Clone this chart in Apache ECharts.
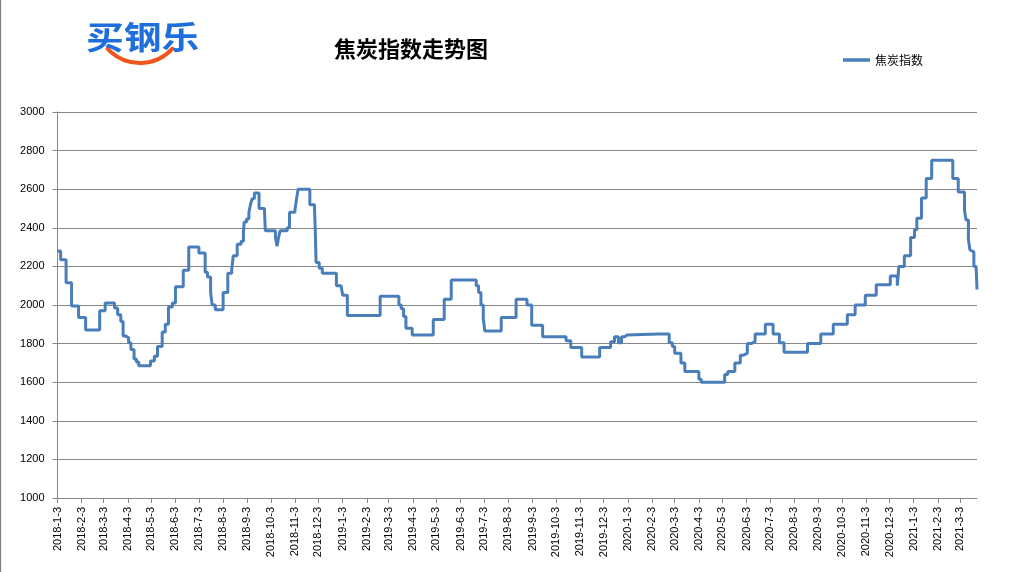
<!DOCTYPE html>
<html>
<head>
<meta charset="utf-8">
<script src="https://cdn.jsdelivr.net/npm/echarts@6.0.0/dist/echarts.min.js"></script>
<style>
html,body{margin:0;padding:0;background:#fff;}
#chart{width:1021px;height:572px;}
</style>
</head>
<body>
<div id="chart"></div>
<script>
// Axis range (daily categories)
const startDate = '2018-1-3';
const endDate = '2021-3-25';
const yTicks = [1000, 1200, 1400, 1600, 1800, 2000, 2200, 2400, 2600, 2800, 3000];
const seriesName = '焦炭指数';
const titleText = '焦炭指数走势图';
const logoText = '买钢乐';

// Index level change points: date where a new level begins, and that level
const changeDates = [
'2018-1-3','2018-1-7','2018-1-14','2018-1-21','2018-1-30','2018-2-8','2018-2-26','2018-3-5','2018-3-17','2018-3-21',
'2018-3-25','2018-3-28','2018-3-31','2018-4-4','2018-4-7','2018-4-11','2018-4-14','2018-4-17','2018-5-2','2018-5-7',
'2018-5-11','2018-5-17','2018-5-21','2018-5-25','2018-5-30','2018-6-3','2018-6-13','2018-6-20','2018-7-3','2018-7-11',
'2018-7-14','2018-7-18','2018-7-20','2018-7-24','2018-8-3','2018-8-9','2018-8-14','2018-8-16','2018-8-21','2018-8-26',
'2018-8-29','2018-8-30','2018-9-2','2018-9-5','2018-9-7','2018-9-9','2018-9-12','2018-9-18','2018-9-25','2018-9-26',
'2018-10-9','2018-10-11','2018-10-13','2018-10-15','2018-10-24','2018-10-27','2018-11-3','2018-11-5','2018-11-7','2018-11-22',
'2018-11-28','2018-11-29','2018-11-30','2018-12-4','2018-12-8','2018-12-26','2019-1-1','2019-1-3','2019-1-9','2019-2-20',
'2019-3-16','2019-3-19','2019-3-22','2019-3-25','2019-4-2','2019-4-29','2019-5-13','2019-5-22','2019-6-23','2019-6-26',
'2019-6-29','2019-7-2','2019-7-4','2019-7-25','2019-8-13','2019-8-27','2019-9-2','2019-9-16','2019-10-16','2019-10-22',
'2019-11-5','2019-11-28','2019-12-12','2019-12-17','2019-12-22','2019-12-26','2019-12-30','2020-1-2','2020-2-11','2020-2-12',
'2020-2-25','2020-2-29','2020-3-3','2020-3-11','2020-3-16','2020-4-3','2020-4-6','2020-5-6','2020-5-10','2020-5-19',
'2020-5-26','2020-5-30','2020-6-4','2020-6-9','2020-6-14','2020-6-27','2020-7-7','2020-7-15','2020-7-21','2020-8-20',
'2020-9-6','2020-9-22','2020-10-10','2020-10-20','2020-11-2','2020-11-16','2020-12-4','2020-12-13','2020-12-15','2020-12-22',
'2020-12-30','2021-1-4','2021-1-7','2021-1-13','2021-1-19','2021-1-26','2021-2-22','2021-3-1','2021-3-9','2021-3-11',
'2021-3-14','2021-3-16','2021-3-17','2021-3-21','2021-3-24','2021-3-25'
];
const changeValues = [
2280,2235,2115,1995,1935,1870,1970,2010,1985,1950,
1915,1840,1830,1805,1770,1720,1705,1685,1710,1735,
1785,1860,1900,1990,2010,2095,2180,2300,2270,2170,
2145,2065,2000,1975,2065,2165,2185,2255,2315,2330,
2380,2430,2445,2480,2520,2550,2580,2500,2485,2385,
2350,2305,2350,2385,2400,2480,2495,2550,2600,2520,
2500,2375,2220,2190,2165,2100,2090,2050,1945,2045,
2000,1980,1940,1880,1845,1925,2030,2130,2100,2065,
2000,1930,1865,1935,2030,2000,1895,1835,1815,1780,
1730,1780,1810,1835,1805,1835,1845,1850,1860,1850,
1805,1785,1750,1700,1655,1615,1600,1640,1655,1700,
1740,1750,1800,1810,1850,1900,1850,1805,1755,1800,
1850,1900,1950,2000,2050,2105,2150,2100,2200,2255,
2350,2390,2450,2555,2655,2750,2655,2585,2490,2440,
2340,2285,2275,2200,2185,2080
];

// Build daily category list
function parseD(s){ const p = s.split('-').map(Number); return Date.UTC(p[0], p[1]-1, p[2]); }
function fmtD(t){ const d = new Date(t); return d.getUTCFullYear() + '-' + (d.getUTCMonth()+1) + '-' + d.getUTCDate(); }
const categories = [];
for (let t = parseD(startDate); t <= parseD(endDate); t += 86400000) categories.push(fmtD(t));

const seriesData = changeDates.map((d, i) => [d, changeValues[i]]);
const isMonthTick = (idx, val) => val.split('-')[2] === '3';

const chart = echarts.init(document.getElementById('chart'), null, {renderer: 'canvas'});
chart.setOption({
  animation: false,
  backgroundColor: '#ffffff',
  grid: {left: 57.5, right: 44, top: 112, bottom: 74},
  legend: {
    left: 838, top: 49,
    data: [seriesName],
    icon: 'rect', itemWidth: 27, itemHeight: 3.5,
    textStyle: {fontFamily: '"Noto Sans CJK SC"', fontSize: 12, color: '#000'}
  },
  xAxis: {
    type: 'category',
    data: categories,
    boundaryGap: false,
    axisLine: {lineStyle: {color: '#868686', width: 1}},
    axisTick: {show: true, interval: isMonthTick, length: 5, lineStyle: {color: '#868686'}},
    axisLabel: {interval: isMonthTick, rotate: 90, margin: 9, color: '#000', fontSize: 11, fontFamily: '"Liberation Sans", Arial, sans-serif'},
    splitLine: {show: false}
  },
  yAxis: {
    type: 'value',
    min: yTicks[0], max: yTicks[yTicks.length-1], interval: 200,
    axisLine: {show: true, lineStyle: {color: '#868686', width: 1}},
    axisTick: {show: true, length: 5, lineStyle: {color: '#868686'}},
    axisLabel: {margin: 13, color: '#000', fontSize: 11, fontFamily: '"Liberation Sans", Arial, sans-serif', formatter: v => String(v)},
    splitLine: {show: true, lineStyle: {color: '#868686', width: 1}}
  },
  series: [{
    name: seriesName,
    type: 'line',
    step: 'end',
    symbol: 'none',
    data: seriesData,
    lineStyle: {color: '#4A7EBB', width: 3},
    itemStyle: {color: '#4A7EBB'}
  }],
  graphic: [
    {type: 'line', shape: {x1: 0.5, y1: 0, x2: 0.5, y2: 572}, style: {stroke: '#7f7f7f', lineWidth: 1.2}, silent: true},
    {type: 'text', x: 411, y: 49, style: {text: titleText, fontSize: 22, fontFamily: '"Noto Sans CJK SC"', fontWeight: 'bold', fill: '#000', align: 'center', verticalAlign: 'middle'}},
    {type: 'arc', shape: {cx: 140, cy: 19, r: 44, startAngle: 0.74, endAngle: 2.40, clockwise: true}, style: {stroke: '#F0561B', lineWidth: 4, fill: null, lineCap: 'round'}},
    {type: 'text', x: 86, y: 37, scaleX: 1.18, style: {text: logoText, fontSize: 32, fontFamily: '"Noto Sans CJK SC"', fontWeight: 'bold', fill: '#1E6FDB', align: 'left', verticalAlign: 'middle'}}
  ]
});
</script>
</body>
</html>
